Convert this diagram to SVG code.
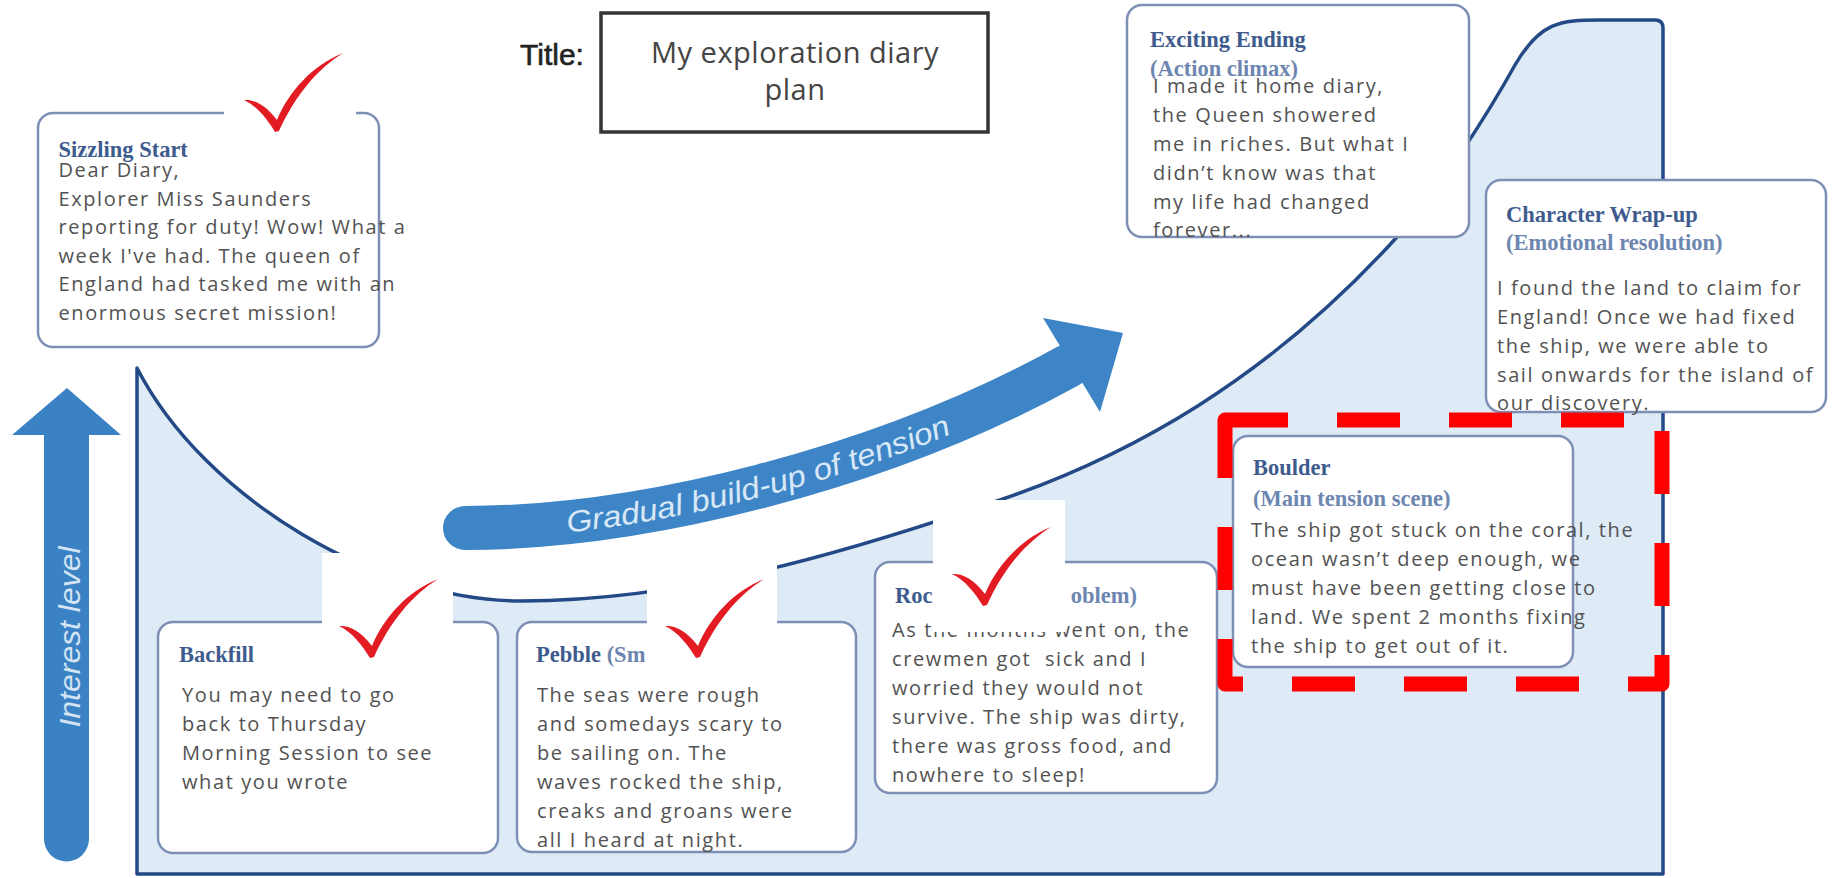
<svg xmlns="http://www.w3.org/2000/svg" width="1832" height="878" viewBox="0 0 1832 878">
<defs>
<style>
.box{fill:#ffffff;stroke:#7d8fb5;stroke-width:2.5}
.h{font-family:"Liberation Serif","DejaVu Serif",serif;font-weight:bold;font-size:22.5px;fill:#3e5b8e}
.hs{fill:#6d86b0}
.b{font-family:"Open Sans","DejaVu Sans",sans-serif;font-size:20px;letter-spacing:1.6px;fill:#525252}
.patch{fill:#ffffff}
.chk{fill:#e31b23}
</style>
<path id="check" d="M -31,-31 C -22,-32 -10,-27 2,-11 C 14,-40 38,-66 68,-78 C 42,-62 20,-35 4,0 L 0,1 C -8,-12 -18,-25 -31,-31 Z"/>
<path id="gradPath" d="M 466 538 C 642 538 885 480 1074 375"/>
</defs>
<rect width="1832" height="878" fill="#ffffff"/>

<g id="chart">
<path d="M 137 368 C 205 500 380 601 521 601 C 681 601 840 555 1000 500 C 1130 455.4 1267 380 1397 237 C 1440 190 1490 110 1515 65 C 1540 22 1560 20 1600 20 L 1655 20 Q 1663 20 1663 28 L 1663 874 L 137 874 Z" fill="#deebf7" stroke="#234a86" stroke-width="3.5" stroke-linejoin="round"/>
</g>

<g id="title">
<text x="520" y="65" font-family="Liberation Sans, Arial, sans-serif" font-size="30" fill="#222" stroke="#222" stroke-width="0.6">Title:</text>
<rect x="601" y="13" width="387" height="119" fill="#ffffff" stroke="#353535" stroke-width="3.5"/>
<text font-family="Open Sans, sans-serif" font-size="29" fill="#444" text-anchor="middle" letter-spacing="0.5"><tspan x="795" y="63">My exploration diary</tspan><tspan x="795" y="100">plan</tspan></text>
</g>

<g id="connectors">
<path id="interest-arrow" d="M 12 435 L 67 388 L 121 435 L 89 435 L 89 839 A 22.5 22.5 0 0 1 44 839 L 44 435 Z" fill="#3b82c4"/>
<text transform="translate(80,637) rotate(-90)" text-anchor="middle" font-family="Liberation Sans, Arial, sans-serif" font-style="italic" font-size="30" fill="#d3e4f4" textLength="181" lengthAdjust="spacingAndGlyphs">Interest level</text>
<path d="M 465 528 C 640 528 880 470 1068 366" fill="none" stroke="#3d85c6" stroke-width="44" stroke-linecap="round"/>
<polygon points="1043,318 1123,333 1100,412" fill="#3d85c6"/>
<text font-family="Liberation Sans, Arial, sans-serif" font-style="italic" font-size="30" fill="#d9e8f6"><textPath href="#gradPath" startOffset="102" textLength="398" lengthAdjust="spacingAndGlyphs">Gradual build-up of tension</textPath></text>
</g>

<g id="node-sizzling">
<rect class="box" x="38" y="113" width="341" height="234" rx="15"/>
<text class="h" x="58.5" y="157">Sizzling Start</text>
<text class="b"><tspan x="58.5" y="177">Dear Diary,</tspan><tspan x="58.5" y="205.5">Explorer Miss Saunders</tspan><tspan x="58.5" y="234">reporting for duty! Wow! What a</tspan><tspan x="58.5" y="262.5">week I've had. The queen of</tspan><tspan x="58.5" y="291">England had tasked me with an</tspan><tspan x="58.5" y="319.5">enormous secret mission!</tspan></text>
</g>

<g id="node-exciting">
<rect class="box" x="1127" y="5" width="342" height="232" rx="15"/>
<text class="h" x="1150" y="47">Exciting Ending</text>
<text class="h hs" x="1150" y="76">(Action climax)</text>
<text class="b"><tspan x="1153" y="93">I made it home diary,</tspan><tspan x="1153" y="122">the Queen showered</tspan><tspan x="1153" y="151">me in riches. But what I</tspan><tspan x="1153" y="180">didn’t know was that</tspan><tspan x="1153" y="208.5">my life had changed</tspan><tspan x="1153" y="237">forever...</tspan></text>
</g>

<g id="node-character">
<rect class="box" x="1486" y="180" width="340" height="232" rx="15"/>
<text class="h" x="1506" y="222">Character Wrap-up</text>
<text class="h hs" x="1506" y="250">(Emotional resolution)</text>
<text class="b"><tspan x="1497" y="295">I found the land to claim for</tspan><tspan x="1497" y="324">England! Once we had fixed</tspan><tspan x="1497" y="353">the ship, we were able to</tspan><tspan x="1497" y="381.5">sail onwards for the island of</tspan><tspan x="1497" y="410">our discovery.</tspan></text>
</g>

<g id="node-boulder">
<rect class="box" x="1233" y="436" width="340" height="231" rx="15"/>
<text class="h" x="1253" y="475">Boulder</text>
<text class="h hs" x="1253" y="506">(Main tension scene)</text>
<text class="b"><tspan x="1251" y="537">The ship got stuck on the coral, the</tspan><tspan x="1251" y="566">ocean wasn’t deep enough, we</tspan><tspan x="1251" y="595">must have been getting close to</tspan><tspan x="1251" y="624">land. We spent 2 months fixing</tspan><tspan x="1251" y="653">the ship to get out of it.</tspan></text>
</g>

<g id="node-backfill">
<rect class="box" x="158" y="622" width="340" height="231" rx="15"/>
<text class="h" x="179" y="662">Backfill</text>
<text class="b"><tspan x="182" y="702">You may need to go</tspan><tspan x="182" y="731">back to Thursday</tspan><tspan x="182" y="760">Morning Session to see</tspan><tspan x="182" y="789">what you wrote</tspan></text>
</g>

<g id="node-pebble">
<rect class="box" x="517" y="622" width="339" height="230" rx="15"/>
<text class="h" x="536" y="662">Pebble <tspan class="hs">(Sm</tspan></text>
<text class="b"><tspan x="537" y="702">The seas were rough</tspan><tspan x="537" y="731">and somedays scary to</tspan><tspan x="537" y="760">be sailing on. The</tspan><tspan x="537" y="789">waves rocked the ship,</tspan><tspan x="537" y="818">creaks and groans were</tspan><tspan x="537" y="847">all I heard at night.</tspan></text>
</g>

<g id="node-rock">
<rect class="box" x="875" y="562" width="342" height="231" rx="15"/>
<text class="h" x="895" y="603">Roc</text>
<text class="h hs" x="1137" y="603" text-anchor="end">oblem)</text>
<text class="b" xml:space="preserve"><tspan x="892" y="637">As the months went on, the</tspan><tspan x="892" y="666">crewmen got  sick and I</tspan><tspan x="892" y="695">worried they would not</tspan><tspan x="892" y="724">survive. The ship was dirty,</tspan><tspan x="892" y="753">there was gross food, and</tspan><tspan x="892" y="782">nowhere to sleep!</tspan></text>
</g>

<g id="marks">
<rect class="patch" x="224" y="92" width="132" height="46"/>
<rect class="patch" x="322" y="553" width="131" height="85"/>
<rect class="patch" x="647" y="555" width="130" height="113"/>
<rect class="patch" x="933" y="500" width="132" height="132"/>
<use href="#check" class="chk" transform="translate(275,131)"/>
<use href="#check" class="chk" transform="translate(370,657)"/>
<use href="#check" class="chk" transform="translate(696,657)"/>
<use href="#check" class="chk" transform="translate(983,605)"/>
<rect x="1225" y="420" width="437" height="264" fill="none" stroke="#ff0000" stroke-width="15" stroke-dasharray="63 49" stroke-linejoin="round"/>
</g>
</svg>
